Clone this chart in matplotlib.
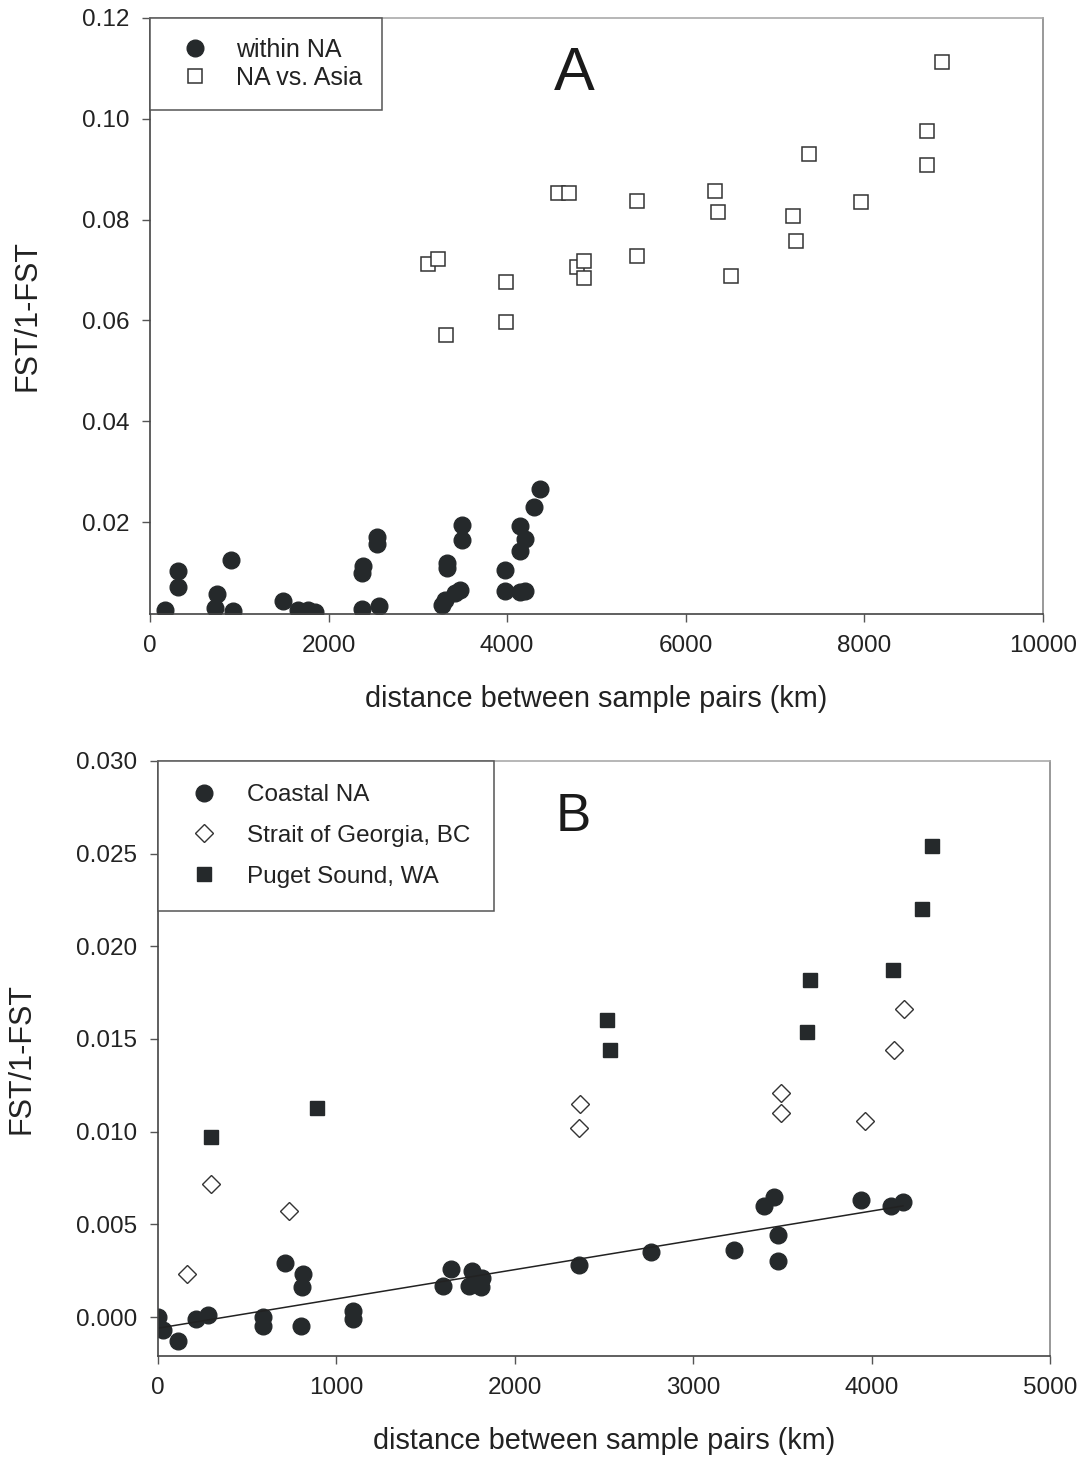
import numpy as np
import matplotlib.pyplot as plt

plt.rcParams['font.family'] = ['Liberation Sans', 'DejaVu Sans']

# panel A: within North America
within_km = [168, 317, 317, 754, 728, 933, 904, 1486, 1661, 1773, 1848, 2371, 2568, 2382, 2374,
             2539, 2539, 3266, 3303, 3329, 3329, 3415, 3471, 3490, 3490, 3975, 3975, 4143, 4143,
             4199, 4143, 4199, 4300, 4367]
within_fst = [0.0025, 0.0104, 0.0072, 0.0058, 0.0030, 0.0023, 0.0125, 0.0044, 0.0025, 0.0026,
              0.0021, 0.0028, 0.0034, 0.0113, 0.0099, 0.0170, 0.0157, 0.0036, 0.0046, 0.0119,
              0.0109, 0.0059, 0.0065, 0.0195, 0.0165, 0.0106, 0.0063, 0.0193, 0.0142, 0.0166,
              0.0061, 0.0063, 0.0231, 0.0265]

# panel A: NA vs. Asia
asia_km = [3110, 3228, 3315, 3987, 3987, 4572, 4695, 4778, 4863, 4863, 5450, 5450, 6327, 6357,
           6503, 7204, 7231, 7383, 7962, 8698, 8698, 8872]
asia_fst = [0.0712, 0.0722, 0.0571, 0.0677, 0.0597, 0.0852, 0.0852, 0.0707, 0.0717, 0.0684,
            0.0836, 0.0727, 0.0857, 0.0816, 0.0689, 0.0808, 0.0758, 0.0930, 0.0834, 0.0975,
            0.0909, 0.1113]

# panel B
coastal_km = [0, 26, 114, 213, 282, 589, 589, 714, 812, 807, 800, 1092, 1092, 1642, 1595, 1762,
              1744, 1818, 1813, 2359, 2763, 3229, 3399, 3455, 3477, 3477, 3943, 4111, 4176]
coastal_fst = [0.0000, -0.0007, -0.0013, -0.0001, 0.0001, 0.0000, -0.0005, 0.0029, 0.0023,
               0.0016, -0.0005, 0.0003, -0.0001, 0.0026, 0.0017, 0.0025, 0.0017, 0.0021, 0.0016,
               0.0028, 0.0035, 0.0036, 0.0060, 0.0065, 0.0044, 0.0030, 0.0063, 0.0060, 0.0062]
georgia_km = [160, 296, 732, 2368, 2362, 3492, 3492, 3963, 4124, 4180]
georgia_fst = [0.0023, 0.0072, 0.0057, 0.0115, 0.0102, 0.0121, 0.0110, 0.0106, 0.0144, 0.0166]
puget_km = [296, 893, 2518, 2531, 3654, 3639, 4122, 4282, 4340]
puget_fst = [0.0097, 0.0113, 0.0160, 0.0144, 0.0182, 0.0154, 0.0187, 0.0220, 0.0254]

dark = '#25292b'

fig = plt.figure(figsize=(10.82, 14.58), dpi=100)
ax1 = fig.add_axes([0.1386, 0.5789, 0.8253, 0.4088])
ax2 = fig.add_axes([0.1460, 0.0700, 0.8244, 0.4081])


def style(ax):
    ax.tick_params(direction='out', length=6, width=1, color='#555', labelsize=17.5,
                   labelcolor='#222')
    ax.tick_params(axis='x', pad=9)
    ax.tick_params(axis='y', pad=9)
    ax.spines['left'].set_color('#444')
    ax.spines['bottom'].set_color('#444')
    ax.spines['right'].set_color('#888')
    ax.spines['top'].set_color('#aaa')
    for s in ax.spines.values():
        s.set_linewidth(1.2)
    ax.set_xlabel('distance between sample pairs (km)', fontsize=20.8, color='#222', labelpad=20)
    ax.set_ylabel('FST/1-FST', fontsize=22, color='#222', labelpad=28)


# ---- A ----
ax1.plot(within_km, within_fst, 'o', ms=12, color=dark, mec=dark, label='within NA')
ax1.plot(asia_km, asia_fst, 's', ms=9.6, mfc='white', mec='#333', mew=1.1, label='NA vs. Asia')
ax1.set_xlim(0, 10000)
ax1.set_ylim(0.0018, 0.12)
ax1.set_xticks(np.arange(0, 10001, 2000))
ax1.set_yticks(np.arange(0.02, 0.121, 0.02))
ax1.set_yticklabels(['%.2f' % v for v in np.arange(0.02, 0.121, 0.02)])
style(ax1)
ax1.text(0.475, 0.905, 'A', transform=ax1.transAxes, fontsize=44, ha='center', va='center',
         color='#1a1a1a')
leg1 = ax1.legend(loc='upper left', bbox_to_anchor=(0.0, 1.0), borderaxespad=0.0, fontsize=18,
                  frameon=True, fancybox=False, edgecolor='#555', framealpha=1,
                  borderpad=0.8, handlelength=2.0, handletextpad=0.65, labelspacing=0.15)
leg1.get_frame().set_linewidth(1.1)
for t in leg1.get_texts():
    t.set_color('#222')

# ---- B ----
ax2.plot(coastal_km, coastal_fst, 'o', ms=12, color=dark, mec=dark, label='Coastal NA')
ax2.plot(georgia_km, georgia_fst, 'D', ms=9.6, mfc='white', mec='#333', mew=1.0,
         label='Strait of Georgia, BC')
ax2.plot(puget_km, puget_fst, 's', ms=10, color=dark, mec=dark, label='Puget Sound, WA')
slope, icpt = np.polyfit(coastal_km, coastal_fst, 1)
fit_x = np.array([min(coastal_km), max(coastal_km)])
ax2.plot(fit_x, icpt + slope * fit_x, '-', color='#222', lw=1.1)
ax2.set_xlim(0, 5000)
ax2.set_ylim(-0.0021, 0.030)
ax2.set_xticks(np.arange(0, 5001, 1000))
ax2.set_yticks(np.arange(0, 0.0301, 0.005))
ax2.set_yticklabels(['%.3f' % v for v in np.arange(0, 0.0301, 0.005)])
style(ax2)
ax2.text(0.466, 0.905, 'B', transform=ax2.transAxes, fontsize=38, ha='center', va='center',
         color='#1a1a1a')
leg2 = ax2.legend(loc='upper left', bbox_to_anchor=(0.0, 1.0), borderaxespad=0.0, fontsize=17.5,
                  frameon=True, fancybox=False, edgecolor='#555', framealpha=1,
                  borderpad=0.95, handlelength=1.9, handletextpad=0.83, labelspacing=0.78)
leg2.get_frame().set_linewidth(1.1)
for t in leg2.get_texts():
    t.set_color('#222')

fig.savefig('out.png', dpi=100)
